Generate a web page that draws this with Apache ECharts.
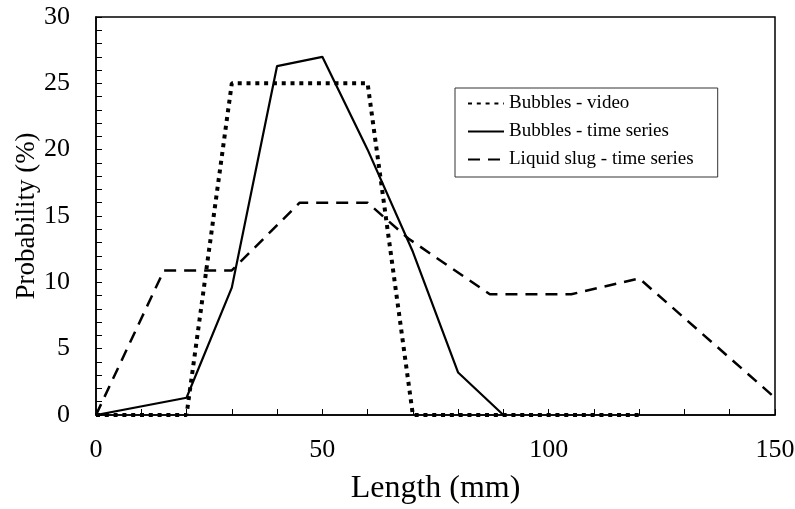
<!DOCTYPE html>
<html>
<head>
<meta charset="utf-8">
<script src="https://cdn.jsdelivr.net/npm/echarts@6/dist/echarts.min.js"></script>
<style>html,body{margin:0;padding:0;background:#fff;}#c{width:795px;height:509px;}</style>
</head>
<body>
<div id="c"></div>
<script>
const videoX = [0,10,20,30,40,50,60,70,80,90,100,110,120];
const videoY = [0,0,0,25,25,25,25,0,0,0,0,0,0];
const bubX = [0,20,30,40,50,60,70,80,90];
const bubY = [0,1.3,9.6,26.3,27.0,20.0,12.3,3.2,0];
const slugX = [0,15,30,45,60,69,87,105,120,150];
const slugY = [0,10.9,10.9,16.0,16.0,13.3,9.1,9.1,10.3,1.3];
const xLabels = [0,50,100,150];
const yLabels = [0,5,10,15,20,25,30];
const seriesNames = ['Bubbles - video','Bubbles - time series','Liquid slug - time series'];

const pair = (xs, ys) => xs.map((x,i)=>[x, ys[i]]);
const font = 'Liberation Serif';
const chart = echarts.init(document.getElementById('c'), null, {renderer:'canvas'});
chart.setOption({
  animation:false,
  backgroundColor:'#fff',
  grid:{left:96,right:20,top:17,bottom:94,outerBoundsMode:'none',containLabel:false,
    show:true,borderColor:'#000',borderWidth:1.5,backgroundColor:'transparent'},
  legend:{
    left:455, top:88, orient:'vertical',
    backgroundColor:'#fff', borderColor:'#333', borderWidth:1,
    padding:[6,24,8,12], itemGap:9, itemWidth:36, itemHeight:19,
    itemStyle:{opacity:0},
    textStyle:{fontFamily:font,fontSize:19,color:'#000'},
    data:seriesNames
  },
  xAxis:{type:'value',min:0,max:150,interval:10,
    name:'Length (mm)',nameLocation:'middle',nameGap:58,nameMoveOverlap:false,
    nameTextStyle:{fontFamily:font,fontSize:32,color:'#000'},
    axisLine:{lineStyle:{color:'#000',width:1.5}},
    axisTick:{inside:true,length:6,lineStyle:{color:'#000',width:1}},
    splitLine:{show:false},
    axisLabel:{margin:22,fontFamily:font,fontSize:26,color:'#000',
      formatter:v=>xLabels.includes(v)?String(v):''}
  },
  yAxis:{type:'value',min:0,max:30,interval:1,
    name:'Probability (%)',nameLocation:'middle',nameGap:56,nameMoveOverlap:false,
    nameTextStyle:{fontFamily:font,fontSize:27,color:'#000'},
    axisLine:{lineStyle:{color:'#000',width:1.5}},
    axisTick:{inside:true,length:6,lineStyle:{color:'#000',width:1}},
    splitLine:{show:false},
    axisLabel:{margin:26,fontFamily:font,fontSize:26,color:'#000',
      formatter:v=>yLabels.includes(v)?String(v):''}
  },
  series:[
    {name:seriesNames[0],type:'line',data:pair(videoX,videoY),symbol:'none',
      lineStyle:{color:'#000',width:4,type:[4,4.8]},itemStyle:{color:'#000'}},
    {name:seriesNames[1],type:'line',data:pair(bubX,bubY),symbol:'none',
      lineStyle:{color:'#000',width:2.2,type:'solid'},itemStyle:{color:'#000'}},
    {name:seriesNames[2],type:'line',data:pair(slugX,slugY),symbol:'none',
      lineStyle:{color:'#000',width:2.5,type:[12,8]},itemStyle:{color:'#000'}}
  ]
});
</script>
</body>
</html>
